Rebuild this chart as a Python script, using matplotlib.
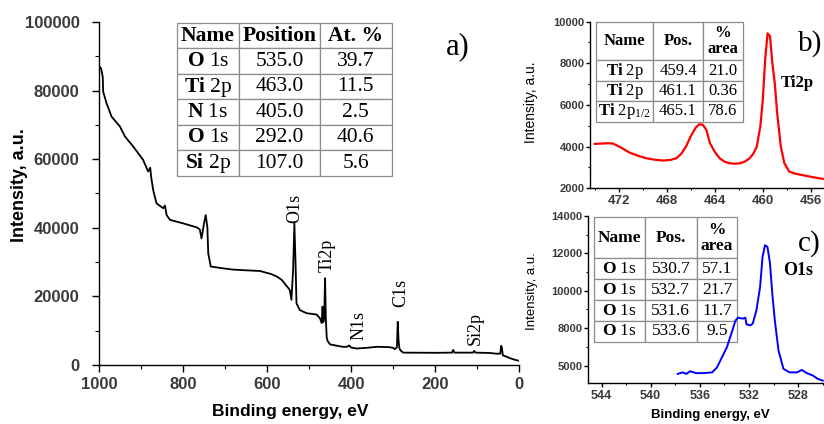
import matplotlib
matplotlib.use("Agg")
import matplotlib.pyplot as plt
from matplotlib.ticker import MultipleLocator, FixedLocator, FixedFormatter

plt.rcParams['font.family'] = ['Liberation Sans', 'DejaVu Sans']
plt.rcParams['mathtext.fontset'] = 'custom'
plt.rcParams['mathtext.rm'] = 'Liberation Serif'
plt.rcParams['mathtext.it'] = 'Liberation Serif:italic'
plt.rcParams['mathtext.bf'] = 'Liberation Serif:bold'

# survey spectrum (a)
survey_be = [999, 995, 991, 990, 982, 970, 950, 938, 918, 895, 883, 878, 876, 871, 863,
             847, 843, 839, 831, 800, 767, 760, 756, 750, 746, 742, 740, 734, 700, 680,
             650, 617, 590, 577, 565, 546, 542, 538, 535, 532, 530, 522, 506, 482, 474,
             470, 468, 466, 464, 462, 460, 458, 456, 450, 442, 420, 410, 405, 400, 387,
             363, 339, 310, 300, 296, 291, 289, 287, 285, 282, 276, 200, 160, 157, 154,
             110, 107, 104, 70, 55, 45, 43, 41, 39, 30, 20, 10, 0]
survey_int = [87000, 86500, 84000, 79700, 76300, 72400, 69500, 66600, 63600, 59800, 56400,
              57500, 55000, 51000, 47100, 45700, 46500, 43700, 42300, 41300, 40100, 39500,
              36900, 41300, 43700, 40100, 32600, 28700, 28100, 27800, 27600, 27400, 26500,
              25800, 24800, 21900, 19000, 27700, 41300, 28700, 18000, 16000, 15100, 14700,
              13600, 12200, 17000, 12500, 14000, 25300, 13000, 8000, 7000, 6000, 5800, 5300,
              5300, 5700, 5100, 4800, 5000, 5300, 5200, 5000, 4600, 5200, 12600, 7000, 4800,
              4200, 3600, 3550, 3600, 4400, 3600, 3600, 4100, 3600, 3500, 3300, 3300, 5600,
              5000, 2800, 2400, 1900, 1500, 1200]
peak_names = ['O1s', 'Ti2p', 'N1s', 'C1s', 'Si2p']
peak_label_x = [533.7, 457.5, 381, 283, 105.5]
peak_label_y = [41400, 27100, 7300, 16900, 5800]

survey_header = ['Name', 'Position', 'At. %']
survey_names = [r'$\mathbf{O}$ 1s', r'$\mathbf{Ti}$ 2p', r'$\mathbf{N}$ 1s',
                r'$\mathbf{O}$ 1s', r'$\mathbf{Si}$ 2p']
survey_pos = ['535.0', '463.0', '405.0', '292.0', '107.0']
survey_at = ['39.7', '11.5', '2.5', '40.6', '5.6']

# Ti 2p (b)
ti_be = [474.0, 473.0, 472.5, 471.8, 471.1, 470.4, 469.7, 469.0, 468.3, 467.7, 467.2,
         466.8, 466.4, 466.0, 465.6, 465.3, 465.0, 464.7, 464.4, 464.0, 463.6, 463.2,
         462.8, 462.3, 461.9, 461.5, 461.1, 460.8, 460.5, 460.2, 460.0, 459.8, 459.6,
         459.4, 459.2, 459.0, 458.8, 458.5, 458.2, 457.8, 457.3, 456.7, 456.0, 455.3, 455.0]
ti_int = [4130, 4160, 4150, 3950, 3710, 3560, 3440, 3370, 3330, 3360, 3440, 3650, 4000,
          4500, 4900, 5070, 5050, 4800, 4160, 3750, 3440, 3280, 3200, 3180, 3200, 3280,
          3440, 3650, 4000, 5000, 6240, 8200, 9440, 9300, 8000, 7040, 5600, 4000, 3200,
          2800, 2700, 2630, 2550, 2480, 2450]
ti_header = ['Name', 'Pos.', '%\narea']
ti_names = [r'$\mathbf{Ti}$ 2p', r'$\mathbf{Ti}$ 2p', r'$\mathbf{Ti}$ 2p$_{1/2}$']
ti_pos = ['459.4', '461.1', '465.1']
ti_area = ['21.0', '0.36', '78.6']

# O 1s (c)
o_be = [537.8, 537.4, 537.1, 536.8, 536.3, 535.7, 535.0, 534.6, 534.2, 533.8, 533.4,
        533.1, 532.9, 532.5, 532.3, 532.2, 531.9, 531.7, 531.4, 531.1, 530.9, 530.7,
        530.5, 530.3, 530.1, 529.9, 529.6, 529.2, 528.7, 528.1, 527.7, 527.3, 526.8,
        526.4, 526.0]
o_int = [5560, 5640, 5560, 5700, 5600, 5600, 5640, 5910, 6450, 6980, 7790, 8410, 8560,
         8510, 8560, 8200, 8150, 8240, 8950, 10200, 11800, 12430, 12340, 11500, 9800,
         8410, 6810, 5830, 5640, 5640, 5770, 5600, 5470, 5290, 5200]
o_ticks = [6000, 8000, 10000, 12000, 14000]
o_tick_labels = ['5000', '8000', '10000', '12000', '14000']
o_header = ['Name', 'Pos.', '%\narea']
o_names = [r'$\mathbf{O}$ 1s'] * 4
o_pos = ['530.7', '532.7', '531.6', '533.6']
o_area = ['57.1', '21.7', '11.7', '9.5']

TICK_COL = '#3a3a3a'


def style_axes(ax, tick_size, ylen=4, xpad=3, ypad=3):
    for s in ['top', 'right']:
        ax.spines[s].set_visible(False)
    for s in ['left', 'bottom']:
        ax.spines[s].set_linewidth(1.0)
    ax.tick_params(which='major', direction='out', length=ylen, width=1.0,
                   labelsize=tick_size, labelcolor=TICK_COL)
    ax.tick_params(which='minor', direction='out', length=ylen * 0.6, width=0.8)
    ax.tick_params(axis='x', pad=xpad)
    ax.tick_params(axis='y', pad=ypad)
    for lab in ax.get_xticklabels() + ax.get_yticklabels():
        lab.set_fontweight('bold')


def draw_table(ax, header, cols, bbox, col_w, header_h, fs):
    rows = list(zip(*cols))
    tab = ax.table(cellText=rows, colLabels=header, colWidths=col_w,
                   cellLoc='center', bbox=bbox, zorder=3)
    tab.auto_set_font_size(False)
    tab.set_fontsize(fs)
    for (r, c), cell in tab.get_celld().items():
        cell.set_edgecolor('#8c8c8c')
        cell.set_linewidth(0.9)
        cell.PAD = 0.02
        txt = cell.get_text()
        txt.set_fontfamily('Liberation Serif')
        if r == 0:
            txt.set_fontweight('bold')
            cell.set_height(cell.get_height() * header_h)
            txt.set_linespacing(0.95)
    return tab


fig = plt.figure(figsize=(8.24, 4.24), dpi=100)

# ---- a) survey ----
ax = fig.add_axes([0.1201, 0.1392, 0.510, 0.809])
ax.plot(survey_be, survey_int, color='black', lw=1.3)
ax.set_xlim(1000, 0)
ax.set_ylim(0, 100000)
ax.xaxis.set_major_locator(MultipleLocator(200))
ax.xaxis.set_minor_locator(MultipleLocator(100))
ax.yaxis.set_major_locator(MultipleLocator(20000))
ax.yaxis.set_minor_locator(MultipleLocator(10000))
style_axes(ax, 12, ylen=5, xpad=4, ypad=9)
ax.set_xlabel('Binding energy, eV', fontsize=12.5, fontweight='bold')
ax.xaxis.set_label_coords(0.454, -0.115)
ax.set_ylabel('Intensity, a.u.', fontsize=13, fontweight='bold')
ax.yaxis.set_label_coords(-0.169, 0.525)
for name, x, y in zip(peak_names, peak_label_x, peak_label_y):
    ax.text(x, y, name, rotation=90, ha='center', va='bottom', fontsize=13,
            family='Liberation Serif')
draw_table(ax, survey_header, [survey_names, survey_pos, survey_at],
           [0.1849, 0.551, 0.5115, 0.446], [62.6, 80.7, 71.7], 1.0, 15.5)
ax.text(0.854, 0.927, 'a)', transform=ax.transAxes, ha='center', va='center',
        fontsize=22, family='Liberation Serif')

# ---- b) Ti 2p ----
bx = fig.add_axes([0.716, 0.556, 0.284, 0.393])
bx.plot(ti_be, ti_int, color='#ff0000', lw=1.6, zorder=6)
bx.set_xlim(474.4, 454.9)
bx.set_ylim(2000, 10000)
bx.xaxis.set_major_locator(MultipleLocator(4))
bx.xaxis.set_minor_locator(MultipleLocator(2))
bx.yaxis.set_major_locator(MultipleLocator(2000))
bx.yaxis.set_minor_locator(MultipleLocator(1000))
style_axes(bx, 8, ylen=3, xpad=2, ypad=1)
for lab in bx.get_xticklabels():
    lab.set_fontsize(9.5)
bx.set_ylabel('Intensity, a.u.', fontsize=10)
bx.yaxis.set_label_coords(-0.222, 0.518)
draw_table(bx, ti_header, [ti_names, ti_pos, ti_area],
           [0.0256, 0.400, 0.627, 0.600], [57.3, 49.4, 40.0], 1.9, 12)
bx.text(0.940, 0.866, 'b)', transform=bx.transAxes, ha='center', va='center',
        fontsize=21, family='Liberation Serif')
bx.text(0.885, 0.632, 'Ti2p', transform=bx.transAxes, ha='center', va='center',
        fontsize=12, fontweight='bold', family='Liberation Serif')

# ---- c) O 1s ----
cx = fig.add_axes([0.7136, 0.096, 0.2864, 0.395])
cx.plot(o_be, o_int, color='#0000ff', lw=1.4, zorder=6)
cx.set_xlim(545.1, 525.9)
cx.set_ylim(5057, 14000)
cx.xaxis.set_major_locator(MultipleLocator(4))
cx.xaxis.set_minor_locator(MultipleLocator(2))
cx.yaxis.set_major_locator(FixedLocator(o_ticks))
cx.yaxis.set_major_formatter(FixedFormatter(o_tick_labels))
cx.yaxis.set_minor_locator(MultipleLocator(1000))
style_axes(cx, 8, ylen=3, xpad=2, ypad=1)
for lab in cx.get_xticklabels():
    lab.set_fontsize(9)
cx.set_xlabel('Binding energy, eV', fontsize=9.5, fontweight='bold')
cx.xaxis.set_label_coords(0.517, -0.153)
cx.set_ylabel('Intensity, a.u.', fontsize=9.5)
cx.yaxis.set_label_coords(-0.212, 0.551)
draw_table(cx, o_header, [o_names, o_pos, o_area],
           [0.0254, 0.248, 0.6072, 0.742], [51.0, 51.7, 40.6], 1.97, 12.5)
cx.text(0.936, 0.837, 'c)', transform=cx.transAxes, ha='center', va='center',
        fontsize=21, family='Liberation Serif')
cx.text(0.890, 0.676, 'O1s', transform=cx.transAxes, ha='center', va='center',
        fontsize=13, fontweight='bold', family='Liberation Serif')

fig.savefig('out.png', dpi=100)
